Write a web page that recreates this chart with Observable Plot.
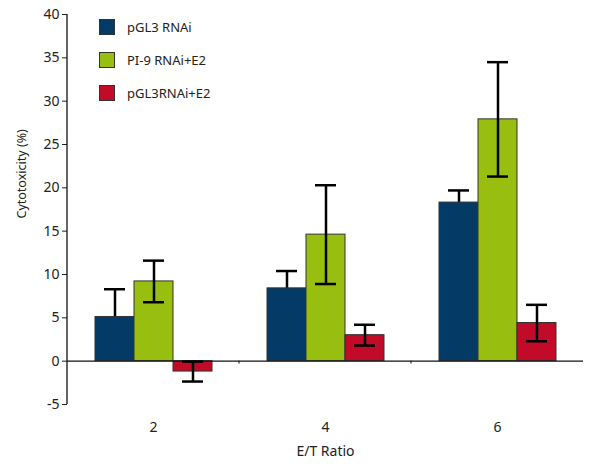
<!DOCTYPE html>
<html><head><meta charset="utf-8">
<script src="https://cdn.jsdelivr.net/npm/d3@7"></script>
<script src="https://cdn.jsdelivr.net/npm/@observablehq/plot@0.6"></script>
<style>
body{margin:0;background:#fff;font-family:"Noto Sans",sans-serif;}
#wrap{position:relative;width:600px;height:468px;}
.legend{position:absolute;left:99px;top:19px;font:13px "Noto Sans",sans-serif;color:#222;}
.legend .row{display:flex;align-items:center;height:15px;margin-bottom:18px;}
.legend .sw{width:14px;height:14px;border:1px solid #333;margin-right:12px;box-sizing:content-box;}
</style></head>
<body><div id="wrap"></div>
<script>
const ratios = ["2", "4", "6"];
const series = ["pGL3 RNAi", "PI-9 RNAi+E2", "pGL3RNAi+E2"];
const colors = ["#033a66", "#98bf10", "#c20b28"];
const pGL3 = [5.1, 8.4, 18.3];
const pGL3Err = [3.2, 2.0, 1.4];
const pi9 = [9.2, 14.6, 27.9];
const pi9Err = [2.4, 5.7, 6.6];
const pGL3E2 = [-1.2, 3.0, 4.4];
const pGL3E2Err = [1.15, 1.2, 2.1];
const yTicks = [-5, 0, 5, 10, 15, 20, 25, 30, 35, 40];
const yLabel = "Cytotoxicity (%)";
const xLabel = "E/T Ratio";

const vals = [pGL3, pi9, pGL3E2];
const errs = [pGL3Err, pi9Err, pGL3E2Err];
const data = [];
ratios.forEach((r, i) => series.forEach((s, j) => data.push({ratio: r, series: s, value: vals[j][i], err: errs[j][i]})));
const under = data.filter(d => d.series === series[0]);
const over = data.filter(d => d.series !== series[0]);

const errMarks = (arr) => [
  Plot.ruleX(arr, {fx: "ratio", x: "series", y1: d => d.value - d.err, y2: d => d.value + d.err, stroke: "#000", strokeWidth: 2.5}),
  Plot.tickY(arr, {fx: "ratio", x: "series", y: d => d.value + d.err, stroke: "#000", strokeWidth: 2.5, insetLeft: 9, insetRight: 9}),
  Plot.tickY(arr, {fx: "ratio", x: "series", y: d => d.value - d.err, stroke: "#000", strokeWidth: 2.5, insetLeft: 9, insetRight: 9})
];

const plot = Plot.plot({
  width: 600, height: 468,
  marginLeft: 67, marginRight: 17, marginTop: 14, marginBottom: 64,
  style: {fontFamily: "Noto Sans", fontSize: "14px", color: "#222", background: "white"},
  fx: {domain: ratios, padding: 0, label: xLabel},
  x: {domain: series, paddingInner: 0, paddingOuter: 0.68, axis: null},
  y: {domain: [-5, 40], label: null},
  color: {domain: series, range: colors},
  marks: [
    ...errMarks(under),
    Plot.barY(data, {fx: "ratio", x: "series", y: "value", fill: "series", stroke: "#333", strokeWidth: 1, inset: 0}),
    Plot.ruleY([0], {stroke: "#111", strokeWidth: 1.3}),
    ...errMarks(over),
    Plot.axisY({ticks: yTicks, tickFormat: d => String(d), tickSize: 5, tickPadding: 3, label: null}),
    Plot.axisFx({anchor: "bottom", tickSize: 0, tickPadding: 18, label: xLabel, labelAnchor: "center", labelArrow: "none", labelOffset: 51}),
    Plot.text([yLabel], {text: d => d, frameAnchor: "left", rotate: -90, dx: -46, dy: 9, fontSize: 12.5, fill: "#222", facet: "super"})
  ]
});

// y axis line and group separator ticks, placed with the plot's own scales
const ys = plot.scale("y"), fxs = plot.scale("fx");
const svg = d3.select(plot.tagName === "svg" ? plot : plot.querySelector("svg"));
const x0 = fxs.range[0];
svg.append("line").attr("x1", x0).attr("x2", x0).attr("y1", ys.apply(-5)).attr("y2", ys.apply(40))
  .attr("stroke", "#111").attr("stroke-width", 1.3);
ratios.slice(1).forEach(r => {
  const xx = fxs.apply(r);
  svg.append("line").attr("x1", xx).attr("x2", xx).attr("y1", ys.apply(0)).attr("y2", ys.apply(0) + 3)
    .attr("stroke", "#111").attr("stroke-width", 1);
});

const wrap = document.getElementById("wrap");
wrap.appendChild(plot);
const leg = document.createElement("div");
leg.className = "legend";
series.forEach((s, i) => {
  const row = document.createElement("div");
  row.className = "row";
  const sw = document.createElement("div");
  sw.className = "sw";
  sw.style.background = colors[i];
  const t = document.createElement("span");
  t.textContent = s;
  row.appendChild(sw); row.appendChild(t);
  leg.appendChild(row);
});
wrap.appendChild(leg);
</script></body></html>
